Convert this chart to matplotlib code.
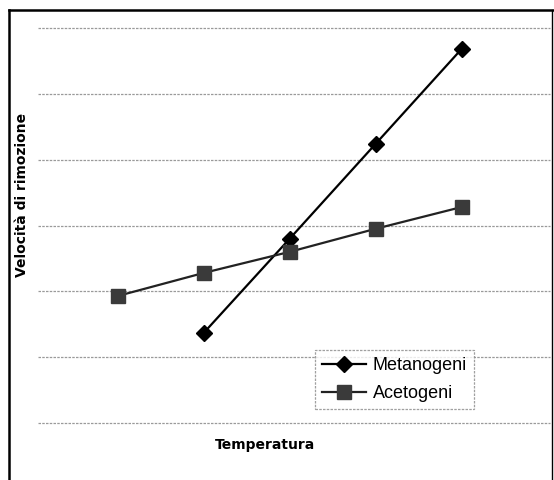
import matplotlib.pyplot as plt
from matplotlib.lines import Line2D

# Dati (unità arbitrarie)
temp_meta = [2, 3, 4, 5]
vel_meta = [1.37, 2.80, 4.24, 5.68]

temp_aceto = [1, 2, 3, 4, 5]
vel_aceto = [1.93, 2.28, 2.60, 2.95, 3.28]

fig = plt.figure(figsize=(5.54, 4.8), dpi=100)
ax = fig.add_axes([38 / 554, 1 - 423 / 480, 512 / 554, 395 / 480])

# Griglia orizzontale tratteggiata
for y in range(0, 7):
    ax.axhline(y, color='#9a9a9a', linestyle=(0, (2, 1)), linewidth=0.9,
               zorder=0, clip_on=False)

ax.plot(temp_meta, vel_meta, color='black', linewidth=1.6, marker='D',
        markersize=8, markerfacecolor='black', label='Metanogeni', zorder=3)
ax.plot(temp_aceto, vel_aceto, color='#222222', linewidth=1.6, marker='s',
        markersize=10, markerfacecolor='#3a3a3a', markeredgecolor='#3a3a3a',
        label='Acetogeni', zorder=3)

ax.set_xlim(0.07, 6.03)
ax.set_ylim(0, 6)
ax.set_xticks([])
ax.set_yticks([])
for lato in ax.spines.values():
    lato.set_visible(False)

leg = ax.legend(loc='upper left', bbox_to_anchor=((315 - 38) / 512, (423 - 350) / 395),
                borderaxespad=0, frameon=True, fancybox=False, handlelength=2.4,
                handletextpad=0.4, borderpad=0.4, labelspacing=0.6,
                prop={'family': 'Liberation Sans', 'size': 13})
leg.get_frame().set_edgecolor('#888888')
leg.get_frame().set_linestyle((0, (2, 1)))
leg.get_frame().set_linewidth(0.9)

fig.text(22 / 554, 1 - 195 / 480, 'Velocità di rimozione', rotation=90,
         fontsize=10, fontweight='bold', ha='center', va='center')
fig.text(265 / 554, 1 - 445 / 480, 'Temperatura', fontsize=10,
         fontweight='bold', ha='center', va='center')

# Cornice esterna
fig.add_artist(Line2D([9 / 554, 9 / 554], [0, 1 - 10 / 480], color='black', linewidth=1.8))
fig.add_artist(Line2D([9 / 554, 1], [1 - 10 / 480, 1 - 10 / 480], color='black', linewidth=1.8))
fig.add_artist(Line2D([552 / 554, 552 / 554], [0, 1 - 10 / 480], color='black', linewidth=1.0))

fig.savefig('out.png', dpi=100)
